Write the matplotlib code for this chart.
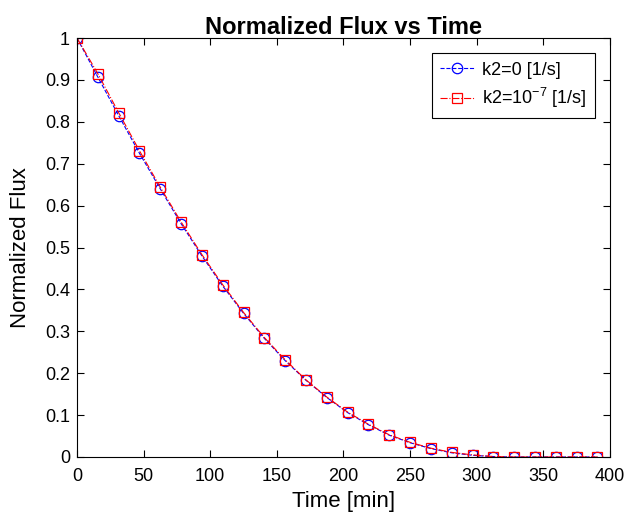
import numpy as np
import matplotlib
matplotlib.use('Agg')
import matplotlib.pyplot as plt

plt.rcParams['font.family'] = ['Liberation Sans', 'DejaVu Sans']
plt.rcParams['mathtext.default'] = 'regular'

# time in minutes, 26 samples
time_min = np.arange(26) * 15.625
flux_k0 = [1.0, 0.907, 0.815, 0.725, 0.640, 0.557, 0.480, 0.408, 0.343, 0.283,
           0.230, 0.183, 0.142, 0.106, 0.077, 0.052, 0.034, 0.020, 0.010, 0.004,
           0.001, 0.0, 0.0, 0.0, 0.0, 0.0]
flux_k7 = [1.0, 0.915, 0.822, 0.731, 0.644, 0.561, 0.483, 0.411, 0.345, 0.285,
           0.232, 0.184, 0.143, 0.107, 0.078, 0.053, 0.035, 0.021, 0.011, 0.005,
           0.001, 0.0, 0.0, 0.0, 0.0, 0.0]
yticklabels = ['0', '0.1', '0.2', '0.3', '0.4', '0.5', '0.6', '0.7', '0.8', '0.9', '1']

fig = plt.figure(figsize=(6.28, 5.14), dpi=100)
ax = fig.add_axes([0.1226, 0.1109, 0.8487, 0.8151])

ax.plot(time_min, flux_k0, '--o', color='blue', lw=0.8, ms=7.5, mfc='none',
        mew=0.9, label='k2=0 [1/s]')
ax.plot(time_min, flux_k7, '-.s', color='red', lw=0.8, ms=7.5, mfc='none',
        mew=0.9, label='k2=10$^{-7}$ [1/s]')

ax.set_xlim(0, 400)
ax.set_ylim(0, 1)
ax.set_xticks(np.arange(0, 401, 50))
ax.set_yticks(np.arange(0, 1.01, 0.1))
ax.set_yticklabels(yticklabels)
ax.tick_params(direction='in', top=True, right=True, labelsize=13, length=5)
ax.tick_params(axis='x', pad=8)
ax.tick_params(axis='y', pad=5)
for s in ax.spines.values():
    s.set_linewidth(0.8)

ax.set_xlabel('Time [min]', fontsize=16, labelpad=4)
ax.set_ylabel('Normalized Flux', fontsize=16, labelpad=10)
ax.set_title('Normalized Flux vs Time', fontsize=17, fontweight='bold', pad=3)

leg = ax.legend(loc='upper right', fontsize=13, fancybox=False, edgecolor='black',
                framealpha=1, handlelength=1.9, handletextpad=0.45,
                borderaxespad=0.85, labelspacing=0.4, borderpad=0.45)
leg.get_frame().set_linewidth(0.8)

fig.savefig('out.png', dpi=100)
